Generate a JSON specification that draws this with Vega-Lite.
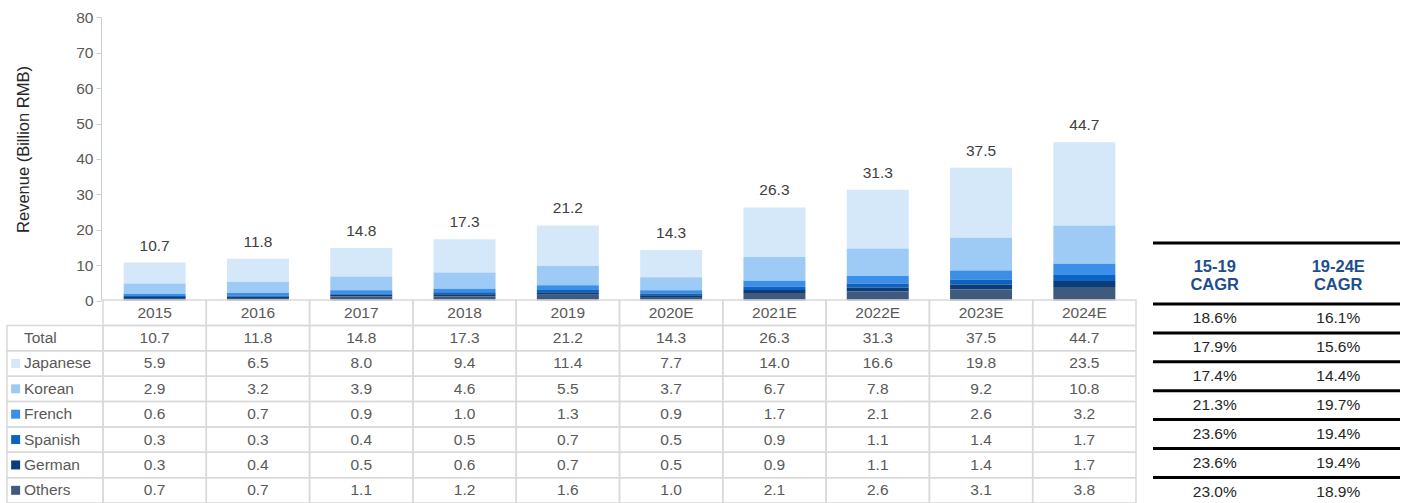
{
  "$schema": "https://vega.github.io/schema/vega-lite/v6.json",
  "autosize": {"type": "none"},
  "padding": {"left": 101, "top": 0, "right": 0, "bottom": 0},
  "width": 1308,
  "height": 503,
  "background": "white",
  "config": {"view": {"stroke": null}, "font": "Liberation Sans"},
  "datasets": {
    "rev": [
      {"year": "2015", "Total": 10.7, "Japanese": 5.9, "Korean": 2.9, "French": 0.6, "Spanish": 0.3, "German": 0.3, "Others": 0.7},
      {"year": "2016", "Total": 11.8, "Japanese": 6.5, "Korean": 3.2, "French": 0.7, "Spanish": 0.3, "German": 0.4, "Others": 0.7},
      {"year": "2017", "Total": 14.8, "Japanese": 8.0, "Korean": 3.9, "French": 0.9, "Spanish": 0.4, "German": 0.5, "Others": 1.1},
      {"year": "2018", "Total": 17.3, "Japanese": 9.4, "Korean": 4.6, "French": 1.0, "Spanish": 0.5, "German": 0.6, "Others": 1.2},
      {"year": "2019", "Total": 21.2, "Japanese": 11.4, "Korean": 5.5, "French": 1.3, "Spanish": 0.7, "German": 0.7, "Others": 1.6},
      {"year": "2020E", "Total": 14.3, "Japanese": 7.7, "Korean": 3.7, "French": 0.9, "Spanish": 0.5, "German": 0.5, "Others": 1.0},
      {"year": "2021E", "Total": 26.3, "Japanese": 14.0, "Korean": 6.7, "French": 1.7, "Spanish": 0.9, "German": 0.9, "Others": 2.1},
      {"year": "2022E", "Total": 31.3, "Japanese": 16.6, "Korean": 7.8, "French": 2.1, "Spanish": 1.1, "German": 1.1, "Others": 2.6},
      {"year": "2023E", "Total": 37.5, "Japanese": 19.8, "Korean": 9.2, "French": 2.6, "Spanish": 1.4, "German": 1.4, "Others": 3.1},
      {"year": "2024E", "Total": 44.7, "Japanese": 23.5, "Korean": 10.8, "French": 3.2, "Spanish": 1.7, "German": 1.7, "Others": 3.8}
    ],
    "cagr": [
      {"row": "Total", "15-19 CAGR": 0.186, "19-24E CAGR": 0.161},
      {"row": "Japanese", "15-19 CAGR": 0.179, "19-24E CAGR": 0.156},
      {"row": "Korean", "15-19 CAGR": 0.174, "19-24E CAGR": 0.144},
      {"row": "French", "15-19 CAGR": 0.213, "19-24E CAGR": 0.197},
      {"row": "Spanish", "15-19 CAGR": 0.236, "19-24E CAGR": 0.194},
      {"row": "German", "15-19 CAGR": 0.236, "19-24E CAGR": 0.194},
      {"row": "Others", "15-19 CAGR": 0.230, "19-24E CAGR": 0.189}
    ]
  },
  "resolve": {
    "scale": {"x": "independent", "y": "independent", "color": "independent"},
    "axis": {"x": "independent", "y": "independent"}
  },
  "layer": [
    {
      "data": {"name": "rev"},
      "transform": [
        {"fold": ["Total", "Japanese", "Korean", "French", "Spanish", "German", "Others"], "as": ["row", "value"]},
        {"filter": "datum.row !== 'Total'"},
        {"calculate": "indexof(['Others','German','Spanish','French','Korean','Japanese'], datum.row)", "as": "stackIdx"}
      ],
      "mark": {"type": "bar"},
      "encoding": {
        "x": {"field": "year", "type": "nominal", "sort": null, "axis": null,
              "scale": {"type": "band", "range": [2, 1035], "paddingInner": 0.4, "paddingOuter": 0.2}},
        "y": {"field": "value", "type": "quantitative", "stack": "zero",
              "scale": {"domain": [0, 80], "range": [300.5, 17.3], "nice": false, "zero": true},
              "axis": {"title": "Revenue (Billion RMB)", "values": [0, 10, 20, 30, 40, 50, 60, 70, 80], "grid": false,
                       "domainColor": "#c5d0db", "tickColor": "#c5d0db", "tickSize": 5, "labelPadding": 3,
                       "labelFontSize": 15.5, "labelColor": "#595959", "labelFont": "Liberation Sans",
                       "titleFont": "Liberation Sans", "titleFontSize": 16.5, "titleFontWeight": "normal", "titleColor": "#262626",
                       "titleX": -78, "titleY": 149, "titleAngle": 270, "titleAlign": "center", "titleBaseline": "middle"}},
        "color": {"field": "row", "type": "nominal", "legend": null,
                  "scale": {"domain": ["Japanese", "Korean", "French", "Spanish", "German", "Others"],
                            "range": ["#d5e8f9", "#9ecbf5", "#3b8fe8", "#0d63c0", "#0a3d7a", "#3f5a7d"]}},
        "order": {"field": "stackIdx", "type": "quantitative", "sort": "ascending"}
      }
    },
    {
      "data": {"name": "rev"},
      "mark": {"type": "text", "fontSize": 15.5, "color": "#404040", "baseline": "alphabetic", "dy": -12, "font": "Liberation Sans"},
      "encoding": {
        "x": {"field": "year", "type": "nominal", "sort": null, "axis": null,
              "scale": {"type": "band", "range": [2, 1035], "paddingInner": 0.4, "paddingOuter": 0.2}},
        "y": {"field": "Total", "type": "quantitative", "axis": null,
              "scale": {"domain": [0, 80], "range": [300.5, 17.3], "nice": false, "zero": true}},
        "text": {"field": "Total", "type": "quantitative", "format": ".1f"}
      }
    },
    {
      "data": {"name": "rev"},
      "transform": [
        {"fold": ["Total", "Japanese", "Korean", "French", "Spanish", "German", "Others"], "as": ["row", "value"]}
      ],
      "mark": {"type": "rect", "fill": "transparent", "stroke": "#d9d9d9", "strokeWidth": 1.5},
      "encoding": {
        "x": {"field": "year", "type": "nominal", "sort": null, "axis": null,
              "scale": {"type": "band", "range": [2, 1035], "paddingInner": 0, "paddingOuter": 0}},
        "y": {"field": "row", "type": "nominal", "axis": null,
              "scale": {"type": "band", "domain": ["Year", "Total", "Japanese", "Korean", "French", "Spanish", "German", "Others"], "range": [300, 503], "paddingInner": 0, "paddingOuter": 0}}
      }
    },
    {
      "data": {"name": "rev"},
      "mark": {"type": "rect", "fill": "transparent", "stroke": "#d9d9d9", "strokeWidth": 1.5},
      "encoding": {
        "x": {"field": "year", "type": "nominal", "sort": null, "axis": null,
              "scale": {"type": "band", "range": [2, 1035], "paddingInner": 0, "paddingOuter": 0}},
        "y": {"datum": "Year", "type": "nominal", "axis": null,
              "scale": {"type": "band", "domain": ["Year", "Total", "Japanese", "Korean", "French", "Spanish", "German", "Others"], "range": [300, 503], "paddingInner": 0, "paddingOuter": 0}}
      }
    },
    {
      "data": {"name": "rev"},
      "mark": {"type": "text", "fontSize": 15.5, "color": "#595959", "font": "Liberation Sans", "baseline": "middle"},
      "encoding": {
        "x": {"field": "year", "type": "nominal", "sort": null, "axis": null,
              "scale": {"type": "band", "range": [2, 1035], "paddingInner": 0, "paddingOuter": 0}},
        "y": {"datum": "Year", "type": "nominal", "axis": null,
              "scale": {"type": "band", "domain": ["Year", "Total", "Japanese", "Korean", "French", "Spanish", "German", "Others"], "range": [300, 503], "paddingInner": 0, "paddingOuter": 0}},
        "text": {"field": "year", "type": "nominal"}
      }
    },
    {
      "data": {"name": "rev"},
      "transform": [
        {"fold": ["Total", "Japanese", "Korean", "French", "Spanish", "German", "Others"], "as": ["row", "value"]}
      ],
      "mark": {"type": "text", "fontSize": 15.5, "color": "#595959", "font": "Liberation Sans", "baseline": "middle"},
      "encoding": {
        "x": {"field": "year", "type": "nominal", "sort": null, "axis": null,
              "scale": {"type": "band", "range": [2, 1035], "paddingInner": 0, "paddingOuter": 0}},
        "y": {"field": "row", "type": "nominal", "axis": null,
              "scale": {"type": "band", "domain": ["Year", "Total", "Japanese", "Korean", "French", "Spanish", "German", "Others"], "range": [300, 503], "paddingInner": 0, "paddingOuter": 0}},
        "text": {"field": "value", "type": "quantitative", "format": ".1f"}
      }
    },
    {
      "data": {"name": "rev"},
      "transform": [
        {"filter": "datum.year === '2015'"},
        {"fold": ["Total", "Japanese", "Korean", "French", "Spanish", "German", "Others"], "as": ["row", "value"]}
      ],
      "mark": {"type": "rect", "fill": "transparent", "stroke": "#d9d9d9", "strokeWidth": 1.5},
      "encoding": {
        "x": {"datum": "label", "type": "nominal", "axis": null,
              "scale": {"type": "band", "domain": ["label"], "range": [-94, 2], "paddingInner": 0, "paddingOuter": 0}},
        "y": {"field": "row", "type": "nominal", "axis": null,
              "scale": {"type": "band", "domain": ["Year", "Total", "Japanese", "Korean", "French", "Spanish", "German", "Others"], "range": [300, 503], "paddingInner": 0, "paddingOuter": 0}}
      }
    },
    {
      "data": {"name": "rev"},
      "transform": [
        {"filter": "datum.year === '2015'"},
        {"fold": ["Total", "Japanese", "Korean", "French", "Spanish", "German", "Others"], "as": ["row", "value"]}
      ],
      "mark": {"type": "text", "fontSize": 15.5, "color": "#595959", "font": "Liberation Sans", "align": "left", "baseline": "middle", "dx": 17},
      "encoding": {
        "x": {"datum": "label", "type": "nominal", "axis": null, "bandPosition": 0,
              "scale": {"type": "band", "domain": ["label"], "range": [-94, 2], "paddingInner": 0, "paddingOuter": 0}},
        "y": {"field": "row", "type": "nominal", "axis": null,
              "scale": {"type": "band", "domain": ["Year", "Total", "Japanese", "Korean", "French", "Spanish", "German", "Others"], "range": [300, 503], "paddingInner": 0, "paddingOuter": 0}},
        "text": {"field": "row", "type": "nominal"}
      }
    },
    {
      "data": {"name": "rev"},
      "transform": [
        {"filter": "datum.year === '2015'"},
        {"fold": ["Japanese", "Korean", "French", "Spanish", "German", "Others"], "as": ["row", "value"]}
      ],
      "mark": {"type": "point", "shape": "square", "filled": true, "size": 81, "opacity": 1},
      "encoding": {
        "x": {"datum": "label", "type": "nominal", "axis": null, "bandPosition": 0.09,
              "scale": {"type": "band", "domain": ["label"], "range": [-94, 2], "paddingInner": 0, "paddingOuter": 0}},
        "y": {"field": "row", "type": "nominal", "axis": null,
              "scale": {"type": "band", "domain": ["Year", "Total", "Japanese", "Korean", "French", "Spanish", "German", "Others"], "range": [300, 503], "paddingInner": 0, "paddingOuter": 0}},
        "color": {"field": "row", "type": "nominal", "legend": null,
                  "scale": {"domain": ["Japanese", "Korean", "French", "Spanish", "German", "Others"],
                            "range": ["#d5e8f9", "#9ecbf5", "#3b8fe8", "#0d63c0", "#0a3d7a", "#3f5a7d"]}}
      }
    },
    {
      "data": {"name": "cagr"},
      "mark": {"type": "rule", "color": "#000000", "strokeWidth": 3},
      "encoding": {
        "x": {"datum": 0, "type": "quantitative", "axis": null, "scale": {"domain": [0, 1], "range": [1052, 1299], "nice": false, "zero": false}},
        "x2": {"datum": 1},
        "y": {"field": "row", "type": "nominal", "axis": null, "bandPosition": 0,
              "scale": {"type": "band", "domain": ["Total", "Japanese", "Korean", "French", "Spanish", "German", "Others"], "range": [304, 506.3], "paddingInner": 0, "paddingOuter": 0}}
      }
    },
    {
      "data": {"name": "cagr"},
      "transform": [{"filter": "datum.row === 'Total'"}],
      "mark": {"type": "rule", "color": "#000000", "strokeWidth": 3},
      "encoding": {
        "x": {"datum": 0, "type": "quantitative", "axis": null, "scale": {"domain": [0, 1], "range": [1052, 1299], "nice": false, "zero": false}},
        "x2": {"datum": 1},
        "y": {"datum": "Header", "type": "nominal", "axis": null, "bandPosition": 0,
              "scale": {"type": "band", "domain": ["Header"], "range": [243, 304], "paddingInner": 0, "paddingOuter": 0}}
      }
    },
    {
      "data": {"name": "cagr"},
      "transform": [
        {"filter": "datum.row === 'Total'"},
        {"fold": ["15-19 CAGR", "19-24E CAGR"], "as": ["period", "cagr"]}
      ],
      "mark": {"type": "text", "fontSize": 16.5, "fontWeight": "bold", "color": "#1f4e8c", "font": "Liberation Sans", "lineBreak": " ", "lineHeight": 18.5, "baseline": "middle", "dy": -7},
      "encoding": {
        "x": {"field": "period", "type": "nominal", "sort": null, "axis": null,
              "scale": {"type": "band", "domain": ["15-19 CAGR", "19-24E CAGR"], "range": [1052, 1299], "paddingInner": 0, "paddingOuter": 0}},
        "y": {"datum": "Header", "type": "nominal", "axis": null,
              "scale": {"type": "band", "domain": ["Header"], "range": [243, 304], "paddingInner": 0, "paddingOuter": 0}},
        "text": {"field": "period", "type": "nominal"}
      }
    },
    {
      "data": {"name": "cagr"},
      "transform": [
        {"fold": ["15-19 CAGR", "19-24E CAGR"], "as": ["period", "cagr"]}
      ],
      "mark": {"type": "text", "fontSize": 15.5, "color": "#262626", "font": "Liberation Sans", "baseline": "middle"},
      "encoding": {
        "x": {"field": "period", "type": "nominal", "sort": null, "axis": null,
              "scale": {"type": "band", "domain": ["15-19 CAGR", "19-24E CAGR"], "range": [1052, 1299], "paddingInner": 0, "paddingOuter": 0}},
        "y": {"field": "row", "type": "nominal", "axis": null,
              "scale": {"type": "band", "domain": ["Total", "Japanese", "Korean", "French", "Spanish", "German", "Others"], "range": [304, 506.3], "paddingInner": 0, "paddingOuter": 0}},
        "text": {"field": "cagr", "type": "quantitative", "format": ".1%"}
      }
    }
  ]
}
